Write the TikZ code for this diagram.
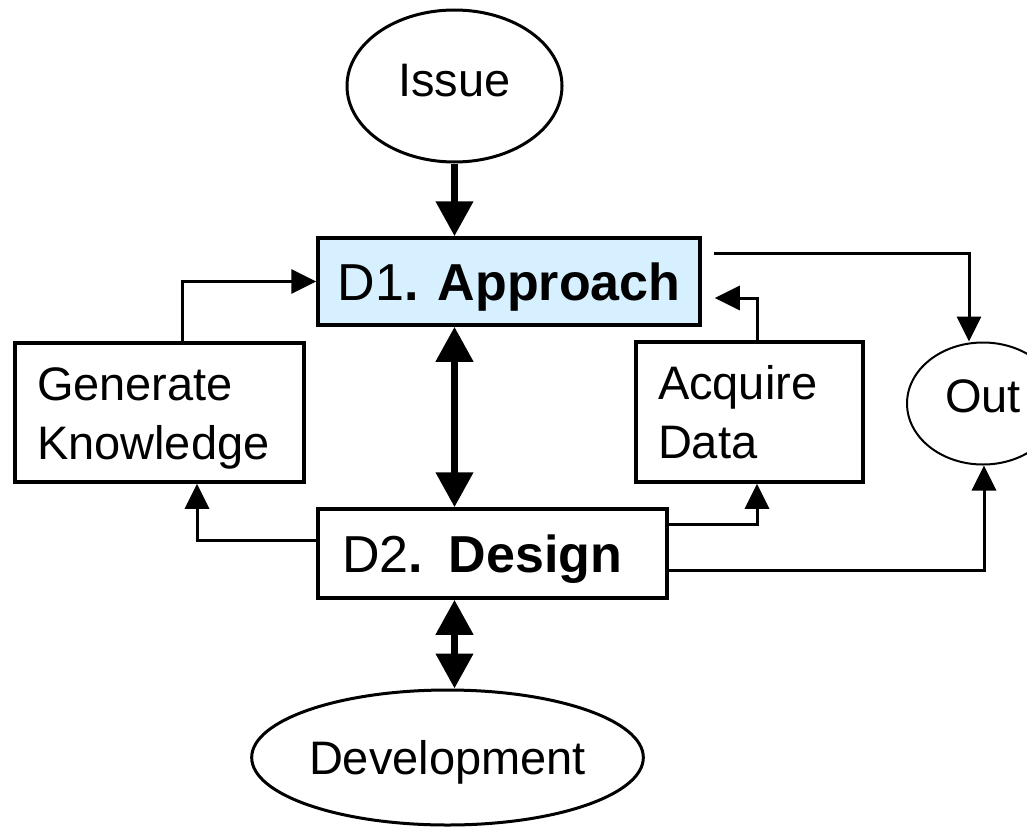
\documentclass[tikz,border=0pt]{standalone}
\usepackage{fontspec}
\setmainfont{Liberation Sans}
\usetikzlibrary{arrows.meta,shapes.geometric}
\definecolor{approachblue}{RGB}{214,240,255}
\begin{document}
\begin{tikzpicture}[x=1pt,y=-1pt,
  txt/.style={font=\fontsize{47}{59}\selectfont},
  dtxt/.style={font=\fontsize{52}{60}\selectfont},
  boxnode/.style={draw, rectangle, line width=3.5pt, inner ysep=0pt},
  ellnode/.style={draw, ellipse, line width=3pt, inner sep=0pt},
  twoline/.style={txt, align=left, inner xsep=22pt, text height=34pt, text depth=59pt},
  link/.style={line width=3pt, -{Triangle[length=25pt,width=24pt]}},
  bigarrow/.style={line width=7.5pt, -{Triangle[length=35pt,width=36pt]}},
  bigboth/.style={line width=7.5pt, {Triangle[length=35pt,width=36pt]}-{Triangle[length=35pt,width=36pt]}}
]
\useasboundingbox (0,0) rectangle (1027,827);
\clip (0,0) rectangle (1027,827);

% nodes
\node[ellnode, minimum width=215pt, minimum height=152pt, txt, text depth=12pt]
  (issue) at (454.5,86) {Issue};
\node[boxnode, fill=approachblue, minimum width=382pt, minimum height=87pt, dtxt, text depth=0pt]
  (app) at (509,281.5) {D1\textbf{. Approach}};
\node[boxnode, minimum height=139pt, twoline, text width=245pt]
  (gk) at (159.5,412.5) {Generate\\Knowledge};
\node[boxnode, minimum height=140pt, twoline, text width=183pt]
  (ad) at (749.5,412) {Acquire\\Data};
\node[ellnode, line width=2pt, minimum width=152pt, minimum height=122pt, txt, text depth=15pt]
  (out) at (983,403.5) {Out};
\node[boxnode, minimum height=89pt, dtxt, text width=301pt, inner xsep=24pt, align=left, text depth=0pt]
  (des) at (492.5,553.5) {D2\textbf{. Design}};
\node[ellnode, minimum width=351pt, minimum height=135pt, txt, text depth=0pt]
  (dev) at (447.5,757.5) {Development};

% main vertical flow
\draw[bigarrow] (issue.south) -- (app.north -| issue.south);
\draw[bigboth] (app.south -| issue.south) -- (des.north -| issue.south);
\draw[bigboth] (des.south -| issue.south) -- (dev.north -| issue.south);

% feedback and output links
\draw[link] ([xshift=22.5pt]gk.north) |- (app.west);
\draw[link] ([xshift=7.5pt]ad.north) |- ([xshift=13pt,yshift=-16.5pt]app.east);
\draw[link, shorten <=12pt] ([yshift=28.5pt]app.east) -| ([xshift=-14pt]out.north);
\draw[link] ([yshift=13.5pt]des.west) -| ([xshift=37.5pt]gk.south);
\draw[link] ([yshift=29.5pt]des.east) -| ([xshift=7.5pt]ad.south);
\draw[link] ([yshift=-16.5pt]des.east) -| ([xshift=1pt]out.south);
\end{tikzpicture}
\end{document}
